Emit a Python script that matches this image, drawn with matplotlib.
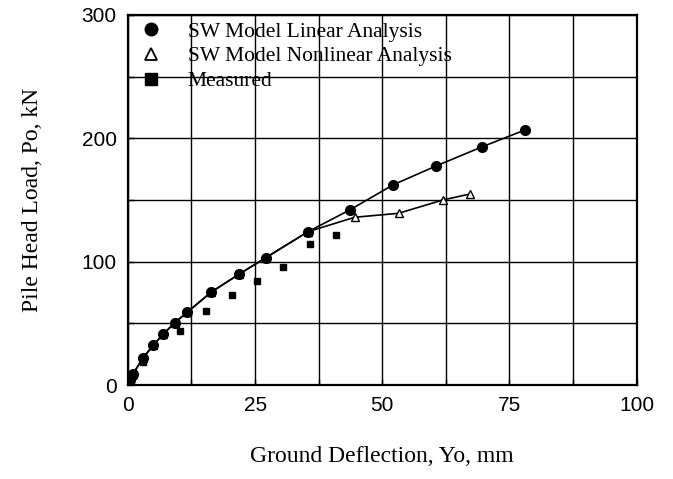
import numpy as np
import matplotlib
matplotlib.use('Agg')
import matplotlib.pyplot as plt
from matplotlib.lines import Line2D

# datos
lin_x = [0, 0.4, 1.0, 2.9, 5.0, 6.9, 9.2, 11.7, 16.4, 21.9, 27.1, 35.4, 43.6, 52.1, 60.6, 69.7, 78.1]
lin_y = [0, 4, 9, 21.6, 32.4, 41.1, 50.5, 59.2, 75.4, 90.0, 103.2, 124.3, 141.9, 162.2, 177.6, 193.2, 206.8]

nl_x = [0, 0.4, 1.0, 2.9, 5.0, 6.9, 9.2, 11.7, 16.4, 21.9, 27.1, 35.4, 44.6, 53.2, 61.9, 67.3]
nl_y = [0, 4, 9, 21.6, 32.4, 41.1, 50.5, 59.2, 75.4, 90.0, 103.2, 124.3, 136.0, 139.2, 150.0, 154.9]

meas_x = [0, 1.0, 3.0, 10.2, 15.3, 20.4, 25.4, 30.5, 35.8, 40.9]
meas_y = [0, 7, 19, 44.0, 60.0, 73.0, 84.3, 95.4, 114.3, 121.9]

xticks = [0, 25, 50, 75, 100]
yticks = [0, 100, 200, 300]

serif = ['Liberation Serif', 'DejaVu Serif']
sans = ['Liberation Sans', 'DejaVu Sans']

fig = plt.figure(figsize=(6.73, 4.79), dpi=100)
ax = fig.add_axes([0.190, 0.196, 0.756, 0.773])

ax.plot(nl_x, nl_y, color='k', lw=1.2, marker='^', ms=6, mfc='white', mec='k', mew=1.0, zorder=3)
ax.plot(lin_x, lin_y, color='k', lw=1.2, marker='o', ms=7, mfc='k', mec='k', zorder=4)
ax.plot(meas_x, meas_y, ls='none', marker='s', ms=4.5, color='k', zorder=5)

ax.set_xlim(0, 100)
ax.set_ylim(0, 300)
gx = np.arange(0, 100.1, 12.5)
gy = np.arange(0, 300.1, 50)
ax.set_xticks(gx)
ax.set_yticks(gy)
ax.grid(True, color='k', lw=1.0)
ax.set_xticklabels(['%d' % v if v in xticks else '' for v in gx])
ax.set_yticklabels(['%d' % v if v in yticks else '' for v in gy])
ax.tick_params(direction='in', length=4, width=1.0, labelsize=15, pad=8)
for lab in ax.get_xticklabels() + ax.get_yticklabels():
    lab.set_family(sans)
for sp_ in ax.spines.values():
    sp_.set_linewidth(1.6)

ax.set_xlabel('Ground Deflection, Yo, mm', fontsize=17, family=serif, labelpad=22)
ax.set_ylabel('Pile Head Load, Po, kN', fontsize=17, family=serif, labelpad=28)

handles = [
    Line2D([], [], ls='none', marker='o', ms=9, color='k'),
    Line2D([], [], ls='none', marker='^', ms=9, mfc='white', mec='k', mew=1.3),
    Line2D([], [], ls='none', marker='s', ms=9, color='k'),
]
labels = ['SW Model Linear Analysis', 'SW Model Nonlinear Analysis', 'Measured']
leg = ax.legend(handles, labels, loc='upper left', bbox_to_anchor=(0.008, 1.005),
                frameon=False, borderaxespad=0.0, handlelength=1.0,
                handletextpad=1.2, labelspacing=0.22,
                prop={'family': serif, 'size': 15.5})
leg.set_zorder(6)

fig.savefig('out.png', dpi=100)
